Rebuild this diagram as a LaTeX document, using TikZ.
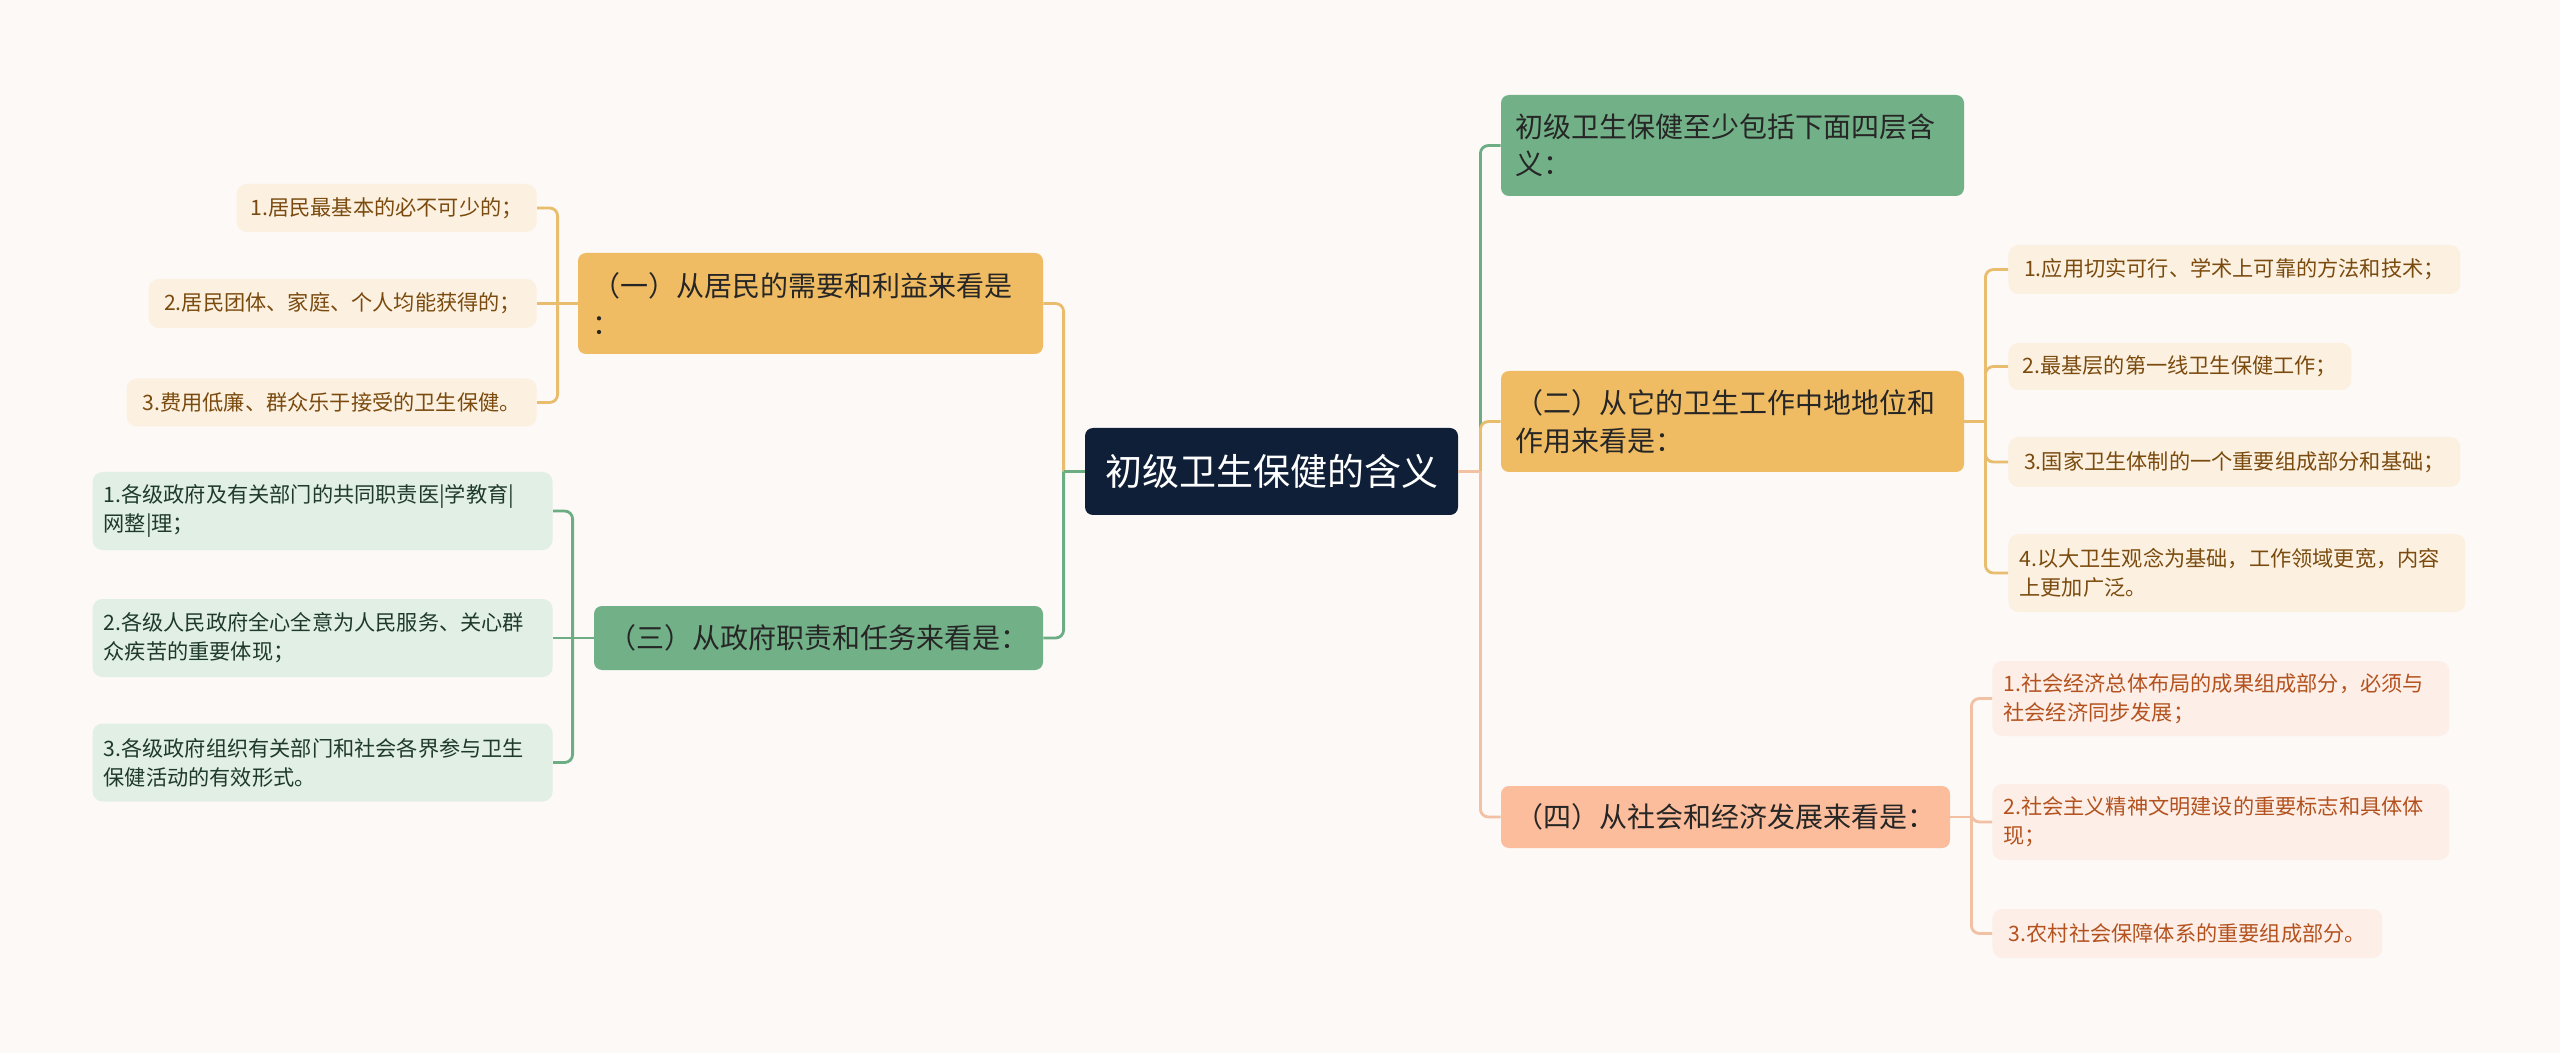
\documentclass[tikz,border=0pt]{standalone}
\usepackage{fontspec}
\setmainfont{Noto Sans CJK SC}
\usepackage{tikz}
\definecolor{pageBG}{HTML}{FCF9F7}
\definecolor{rootFill}{HTML}{0F1F38}
\definecolor{greenFill}{HTML}{72B087}
\definecolor{orangeFill}{HTML}{F0BC63}
\definecolor{salmonFill}{HTML}{FBBD9B}
\definecolor{greenLine}{HTML}{6DAD83}
\definecolor{orangeLine}{HTML}{E8BD6E}
\definecolor{salmonLine}{HTML}{F2C0A2}
\definecolor{orangeLeaf}{HTML}{FCF1E0}
\definecolor{greenLeaf}{HTML}{E1EFE5}
\definecolor{salmonLeaf}{HTML}{FDEFE7}
\definecolor{orangeText}{HTML}{7A4A0E}
\definecolor{greenText}{HTML}{1F3A2A}
\definecolor{salmonText}{HTML}{B4521F}
\tikzset{
  mm/root/.style={fill=rootFill, text=white, rounded corners=4pt, minimum width=186.5pt, minimum height=43.5pt, inner sep=0pt, font=\fontsize{18.5}{22}\selectfont},
  mm/branch/.style={rounded corners=4pt, inner xsep=7pt, inner ysep=0pt, align=left, text=black!85, font=\fontsize{14}{18.75}\selectfont},
  mm/leaf/.style={rounded corners=5pt, inner xsep=5.5pt, inner ysep=0pt, align=left, font=\fontsize{10.6}{14.5}\selectfont},
  mm/leafO/.style={mm/leaf, fill=orangeLeaf, text=orangeText},
  mm/leafG/.style={mm/leaf, fill=greenLeaf, text=greenText},
  mm/leafS/.style={mm/leaf, fill=salmonLeaf, text=salmonText},
  mm/link/.style={line width=1.4pt},
  mm/bend/.style={mm/link, rounded corners=4pt}
}
\begin{document}
\begin{tikzpicture}[x=0.5pt, y=-0.5pt]
\fill[pageBG] (0,0) rectangle (2560,1053);
\useasboundingbox (0,0) rectangle (2560,1053);

\node[mm/root] (root) at (1271.5,471.5) {初级卫生保健的含义};

\node[mm/branch, fill=greenFill, text width=217.5pt, minimum height=50.5pt] (g1) at (1732.5,145.5) {初级卫生保健至少包括下面四层含\\义：};
\node[mm/branch, fill=orangeFill, text width=217.5pt, minimum height=50.5pt] (b2) at (1732.5,421.5) {（二）从它的卫生工作中地地位和\\作用来看是：};
\node[mm/branch, fill=salmonFill, minimum width=224.5pt, minimum height=31pt] (b4) at (1725.5,817) {（四）从社会和经济发展来看是：};
\node[mm/branch, fill=orangeFill, text width=218.5pt, minimum height=50.5pt] (b1) at (810.5,303.5) {（一）从居民的需要和利益来看是\\：};
\node[mm/branch, fill=greenFill, minimum width=224.5pt, minimum height=32pt] (b3) at (818.5,638) {（三）从政府职责和任务来看是：};

\node[mm/leafO, anchor=east, minimum width=150pt, minimum height=24pt] (a1) at (537,208) {1.居民最基本的必不可少的；};
\node[mm/leafO, anchor=east, minimum width=194pt, minimum height=24.5pt] (a2) at (537,303.5) {2.居民团体、家庭、个人均能获得的；};
\node[mm/leafO, anchor=east, minimum width=205pt, minimum height=24pt] (a3) at (537,402.5) {3.费用低廉、群众乐于接受的卫生保健。};

\node[mm/leafG, anchor=east, text width=219pt, minimum height=39pt] (c1) at (553,511) {1.各级政府及有关部门的共同职责医|学教育|\\网整|理；};
\node[mm/leafG, anchor=east, text width=219pt, minimum height=39pt] (c2) at (553,638) {2.各级人民政府全心全意为人民服务、关心群\\众疾苦的重要体现；};
\node[mm/leafG, anchor=east, text width=219pt, minimum height=39pt] (c3) at (553,762.5) {3.各级政府组织有关部门和社会各界参与卫生\\保健活动的有效形式。};

\node[mm/leafO, anchor=west, minimum width=226pt, minimum height=24.5pt] (d1) at (2008,269.5) {1.应用切实可行、学术上可靠的方法和技术；};
\node[mm/leafO, anchor=west, minimum width=171.5pt, minimum height=23.5pt] (d2) at (2008,366.5) {2.最基层的第一线卫生保健工作；};
\node[mm/leafO, anchor=west, minimum width=226pt, minimum height=25pt] (d3) at (2008,462) {3.国家卫生体制的一个重要组成部分和基础；};
\node[mm/leafO, anchor=west, text width=217.5pt, minimum height=39pt] (d4) at (2008,573) {4.以大卫生观念为基础，工作领域更宽，内容\\上更加广泛。};

\node[mm/leafS, anchor=west, text width=217.5pt, minimum height=37.5pt] (e1) at (1992,698.5) {1.社会经济总体布局的成果组成部分，必须与\\社会经济同步发展；};
\node[mm/leafS, anchor=west, text width=217.5pt, minimum height=38pt] (e2) at (1992,822) {2.社会主义精神文明建设的重要标志和具体体\\现；};
\node[mm/leafS, anchor=west, minimum width=195pt, minimum height=24.5pt] (e3) at (1992,933.5) {3.农村社会保障体系的重要组成部分。};

\coordinate (lbus) at ([xshift=-10.5pt]root.west);
\coordinate (rbus) at ([xshift=11pt]root.east);
\coordinate (b1bus) at ([xshift=-10pt]b1.west);
\coordinate (b3bus) at ([xshift=-10.5pt]b3.west);
\coordinate (b2bus) at ([xshift=10.5pt]b2.east);
\coordinate (b4bus) at ([xshift=10.5pt]b4.east);

\draw[mm/bend, orangeLine] (lbus) |- (b1.east);
\draw[mm/bend, greenLine] (lbus) |- (b3.east);
\draw[mm/link, greenLine] (root.west) -- (lbus);

\draw[mm/bend, greenLine] (rbus) |- (g1.west);
\draw[mm/bend, orangeLine] (rbus) |- (b2.west);
\draw[mm/bend, salmonLine] (rbus) |- (b4.west);
\draw[mm/link, salmonLine] (root.east) -- (rbus);

\foreach \k in {a1,a3}
  \draw[mm/bend, orangeLine] (b1bus) |- (\k.east);
\draw[mm/link, orangeLine] (b1.west) -- (a2.east);

\foreach \k in {c1,c3}
  \draw[mm/bend, greenLine] (b3bus) |- (\k.east);
\draw[mm/link, greenLine] (b3.west) -- (c2.east);

\foreach \k in {d1,d2,d3,d4}
  \draw[mm/bend, orangeLine] (b2bus) |- (\k.west);
\draw[mm/link, orangeLine] (b2.east) -- (b2bus);

\foreach \k in {e1,e2,e3}
  \draw[mm/bend, salmonLine] (b4bus) |- (\k.west);
\draw[mm/link, salmonLine] (b4.east) -- (b4bus);
\end{tikzpicture}
\end{document}
